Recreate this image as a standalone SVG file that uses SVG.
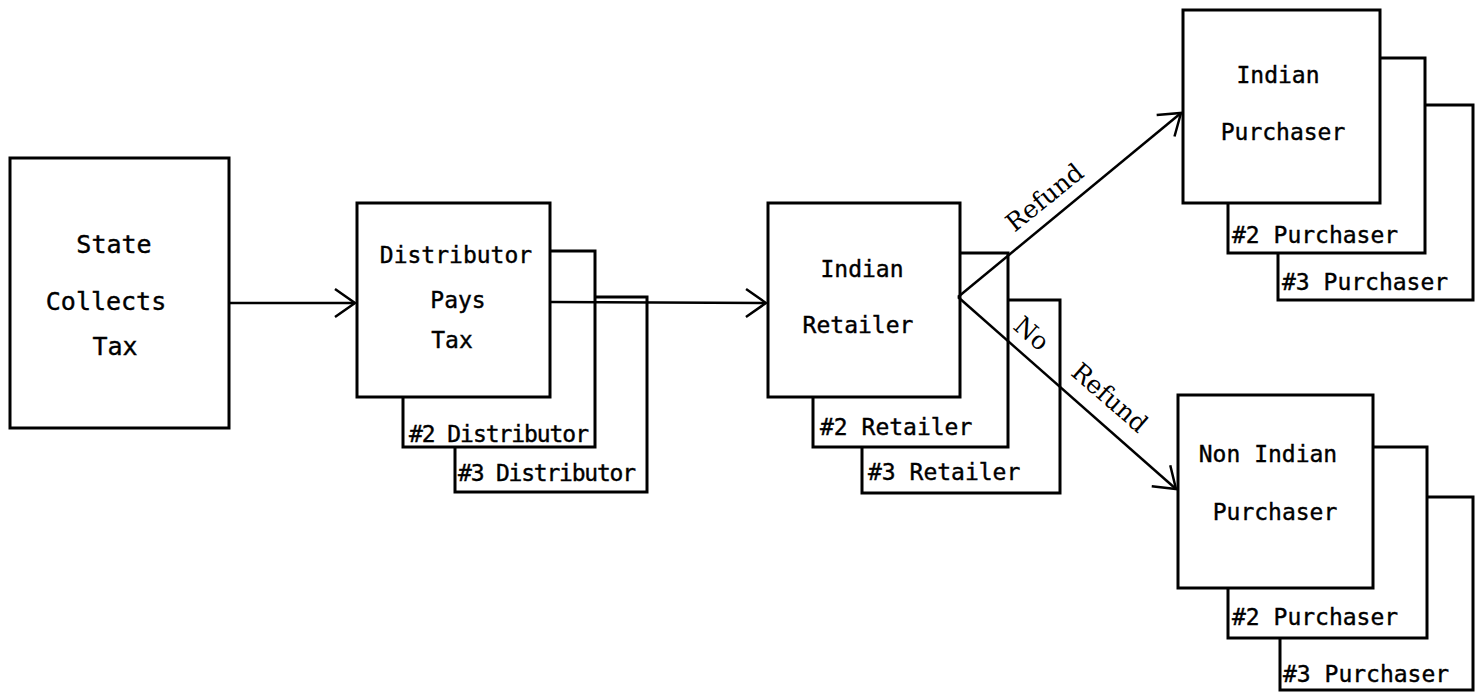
<svg xmlns="http://www.w3.org/2000/svg" width="1484" height="692" viewBox="0 0 1484 692">
<style>
.box{fill:#fff;stroke:#000;stroke-width:3}
.t{font-family:"DejaVu Sans Mono","Liberation Mono",monospace;font-size:23px;fill:#000;stroke:#000;stroke-width:0.4}
.m{text-anchor:middle}
.c{fill:none;stroke:#000;stroke-width:2.5}
.lbl{font-family:"DejaVu Serif","Liberation Serif",serif;font-size:25px;fill:#000}
</style>
<defs>
<marker id="arr" markerUnits="userSpaceOnUse" markerWidth="30" markerHeight="34" refX="0" refY="0" viewBox="-24 -17 28 34" orient="auto" overflow="visible">
<path d="M -20 -14 L 0 0 L -20 14" fill="none" stroke="#000" stroke-width="2.5"/>
</marker>
</defs>
<g id="state">
<rect class="box" x="10" y="158" width="219" height="270"/>
<text class="t m" x="114" y="253" style="font-size:25px">State</text>
<text class="t m" x="106" y="310" style="font-size:25px">Collects</text>
<text class="t m" x="115" y="355" style="font-size:25px">Tax</text>
</g>
<g id="distributor">
<rect class="box" x="455" y="297" width="192" height="195"/>
<text class="t" x="458" y="481" textLength="178">#3 Distributor</text>
<rect class="box" x="403" y="251" width="192" height="196"/>
<text class="t" x="409" y="442" textLength="180">#2 Distributor</text>
<rect class="box" x="357" y="203" width="193" height="194"/>
<text class="t m" x="456" y="263">Distributor</text>
<text class="t m" x="458" y="308">Pays</text>
<text class="t m" x="452" y="348">Tax</text>
</g>
<g id="retailer">
<rect class="box" x="862" y="300" width="198" height="193"/>
<text class="t" x="868" y="480">#3 Retailer</text>
<rect class="box" x="813" y="253" width="195" height="194"/>
<text class="t" x="820" y="435">#2 Retailer</text>
<rect class="box" x="768" y="203" width="192" height="194"/>
<text class="t m" x="862" y="277">Indian</text>
<text class="t m" x="858" y="333">Retailer</text>
</g>
<g id="indian-purchaser">
<rect class="box" x="1278" y="105" width="195" height="195"/>
<text class="t" x="1282" y="290">#3 Purchaser</text>
<rect class="box" x="1228" y="58" width="197" height="195"/>
<text class="t" x="1232" y="243">#2 Purchaser</text>
<rect class="box" x="1183" y="10" width="197" height="193"/>
<text class="t m" x="1278" y="83">Indian</text>
<text class="t m" x="1283" y="140">Purchaser</text>
</g>
<g id="non-indian-purchaser">
<rect class="box" x="1280" y="497" width="193" height="193"/>
<text class="t" x="1283" y="682">#3 Purchaser</text>
<rect class="box" x="1228" y="447" width="199" height="191"/>
<text class="t" x="1232" y="625">#2 Purchaser</text>
<rect class="box" x="1178" y="395" width="195" height="193"/>
<text class="t m" x="1268" y="462">Non Indian</text>
<text class="t m" x="1275" y="520">Purchaser</text>
</g>
<g id="connectors">
<line class="c" x1="229" y1="303" x2="355" y2="303" marker-end="url(#arr)"/>
<line class="c" x1="550" y1="302" x2="766" y2="303" marker-end="url(#arr)"/>
<line class="c" x1="958" y1="297" x2="1181" y2="113" marker-end="url(#arr)"/>
<line class="c" x1="958" y1="297" x2="1176" y2="489" marker-end="url(#arr)"/>
<text class="lbl m" transform="translate(1050,204) rotate(-39)">Refund</text>
<text class="lbl m" transform="translate(1026,340) rotate(41)">No</text>
<text class="lbl m" transform="translate(1104,404) rotate(41)">Refund</text>
</g>
</svg>
